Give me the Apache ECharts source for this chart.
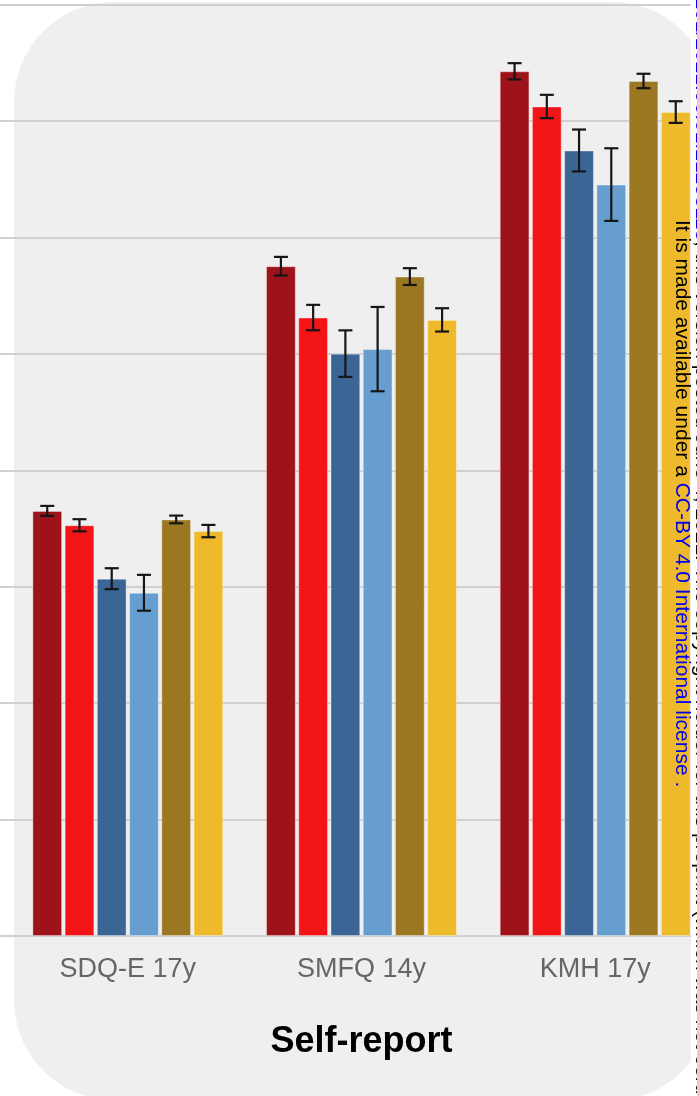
<!DOCTYPE html>
<html>
<head>
<meta charset="utf-8">
<script src="https://cdn.jsdelivr.net/npm/echarts@6/dist/echarts.min.js"></script>
<style>
  html, body { margin: 0; padding: 0; background: #ffffff; }
  #chart { width: 697px; height: 1096px; }
</style>
</head>
<body>
<div id="chart"></div>
<script>
// ---- data (y in grid-line units) ----
const categories = ['SDQ-E 17y', 'SMFQ 14y', 'KMH 17y'];
const seriesNames = ['Series 1', 'Series 2', 'Series 3', 'Series 4', 'Series 5', 'Series 6'];
const seriesColors = ['#9e1219', '#f31418', '#3a6595', '#669fcf', '#9c7722', '#eeb92b'];

const mean1 = [3.651, 5.753, 7.427];
const mean2 = [3.528, 5.312, 7.125];
const mean3 = [3.069, 5.002, 6.747];
const mean4 = [2.948, 5.041, 6.454];
const mean5 = [3.578, 5.664, 7.344];
const mean6 = [3.478, 5.292, 7.077];

const err1 = [0.043, 0.080, 0.070];
const err2 = [0.052, 0.109, 0.100];
const err3 = [0.090, 0.200, 0.180];
const err4 = [0.154, 0.362, 0.312];
const err5 = [0.033, 0.072, 0.062];
const err6 = [0.053, 0.100, 0.093];

const yTicks = [0, 1, 2, 3, 4, 5, 6, 7, 8];
const axisTitle = 'Self-report';
const noticeBlack = 'It is made available under a ';
const noticeBlue = 'CC-BY 4.0 International license .';
const edgeBlue = 'https://doi.org/10.1101/2021.06.01.21258113';
const edgeBlack = '; this version posted June 4, 2021. The copyright holder for this preprint (which was not certified by peer review) is the author/funder, who has granted medRxiv a license to display the preprint in perpetuity.';

// ---- build ----
const means = [mean1, mean2, mean3, mean4, mean5, mean6];
const errs = [err1, err2, err3, err4, err5, err6];
const N = means.length;
const CAT_GAP = 0.183;
const BAR_GAP = 0.084;

const errData = [];
means.forEach((m, s) => {
  m.forEach((v, c) => {
    errData.push([c, v - errs[s][c], v + errs[s][c], s]);
  });
});

function renderErr(params, api) {
  const cat = api.value(0), lo = api.value(1), hi = api.value(2), s = api.value(3);
  const catW = api.size([1, 0])[0];
  const w = catW * (1 - CAT_GAP) / (N + (N - 1) * BAR_GAP);
  const total = N * w + (N - 1) * w * BAR_GAP;
  const off = -total / 2 + s * w * (1 + BAR_GAP) + w / 2;
  const pLo = api.coord([cat, lo]);
  const pHi = api.coord([cat, hi]);
  const x = pLo[0] + off;
  const cap = 7;
  const st = { stroke: '#161616', lineWidth: 2.2 };
  return {
    type: 'group',
    children: [
      { type: 'line', shape: { x1: x, y1: pLo[1], x2: x, y2: pHi[1] }, style: st },
      { type: 'line', shape: { x1: x - cap, y1: pLo[1], x2: x + cap, y2: pLo[1] }, style: st },
      { type: 'line', shape: { x1: x - cap, y1: pHi[1], x2: x + cap, y2: pHi[1] }, style: st }
    ]
  };
}

const barSeries = means.map((m, s) => ({
  name: seriesNames[s],
  type: 'bar',
  xAxisIndex: 0,
  yAxisIndex: 0,
  data: m,
  barGap: (BAR_GAP * 100) + '%',
  barCategoryGap: (CAT_GAP * 100) + '%',
  itemStyle: { color: seriesColors[s], borderColor: 'rgba(255,255,255,0.35)', borderWidth: 1 },
  silent: true,
  z: 3
}));

const chart = echarts.init(document.getElementById('chart'), null, { renderer: 'canvas' });
const GRID_TOP = 4.6;
const GRID_BOTTOM = 160;

chart.setOption({
  animation: false,
  backgroundColor: '#ffffff',
  grid: [
    { left: 11, width: 701, top: GRID_TOP, bottom: GRID_BOTTOM, containLabel: false, outerBoundsMode: 'none' },
    { left: 0, right: 0, top: GRID_TOP, bottom: GRID_BOTTOM, containLabel: false, outerBoundsMode: 'none' }
  ],
  xAxis: [
    {
      type: 'category', gridIndex: 0, data: categories,
      axisLine: { show: false }, axisTick: { show: false },
      axisLabel: { fontSize: 27, color: '#666666', margin: 20, fontFamily: 'Liberation Sans, Arial, sans-serif' },
      name: axisTitle, nameLocation: 'middle', nameGap: 88,
      nameTextStyle: { fontSize: 36, fontWeight: 'bold', color: '#000000', fontFamily: 'Liberation Sans, Arial, sans-serif' }
    },
    { type: 'value', gridIndex: 1, show: false, min: 0, max: 1 }
  ],
  yAxis: [
    { type: 'value', gridIndex: 0, min: yTicks[0], max: yTicks[yTicks.length - 1], interval: 1,
      show: false, splitLine: { show: false } },
    { type: 'value', gridIndex: 1, min: yTicks[0], max: yTicks[yTicks.length - 1], interval: 1,
      axisLine: { show: false }, axisTick: { show: false }, axisLabel: { show: false },
      splitLine: { show: true, lineStyle: { color: '#d0d0d0', width: 2 } } }
  ],
  graphic: [
    { type: 'rect', z: -10, silent: true,
      shape: { x: 14, y: 2, width: 698, height: 1098, r: 100 },
      style: { fill: '#efefef' } },
    { type: 'rect', z: 50, silent: true,
      shape: { x: 691, y: 0, width: 6, height: 1096 },
      style: { fill: '#ffffff' } },
    { type: 'text', z: 60, silent: true, x: 702, y: -175, rotation: -Math.PI / 2,
      style: {
        text: '{b|' + edgeBlue + '}{a|' + edgeBlack + '}',
        x: 0, y: 0, align: 'left', verticalAlign: 'middle',
        fontSize: 21, fontFamily: 'Liberation Sans, Arial, sans-serif',
        rich: {
          a: { fill: '#000000', fontSize: 21, fontFamily: 'Liberation Sans, Arial, sans-serif' },
          b: { fill: '#0000ee', fontSize: 21, fontFamily: 'Liberation Sans, Arial, sans-serif' }
        }
      } },
    { type: 'text', z: 60, silent: true, x: 682, y: 220, rotation: -Math.PI / 2,
      style: {
        text: '{a|' + noticeBlack + '}{b|' + noticeBlue + '}',
        x: 0, y: 0, align: 'left', verticalAlign: 'middle',
        fontSize: 21, fontFamily: 'Liberation Sans, Arial, sans-serif',
        rich: {
          a: { fill: '#000000', fontSize: 21, fontFamily: 'Liberation Sans, Arial, sans-serif' },
          b: { fill: '#0000ee', fontSize: 21, fontFamily: 'Liberation Sans, Arial, sans-serif' }
        }
      } }
  ],
  series: barSeries.concat([{
    type: 'custom',
    name: 'error',
    xAxisIndex: 0,
    yAxisIndex: 0,
    data: errData,
    renderItem: renderErr,
    encode: { x: 0, y: [1, 2] },
    silent: true,
    z: 5
  }])
});
</script>
</body>
</html>
